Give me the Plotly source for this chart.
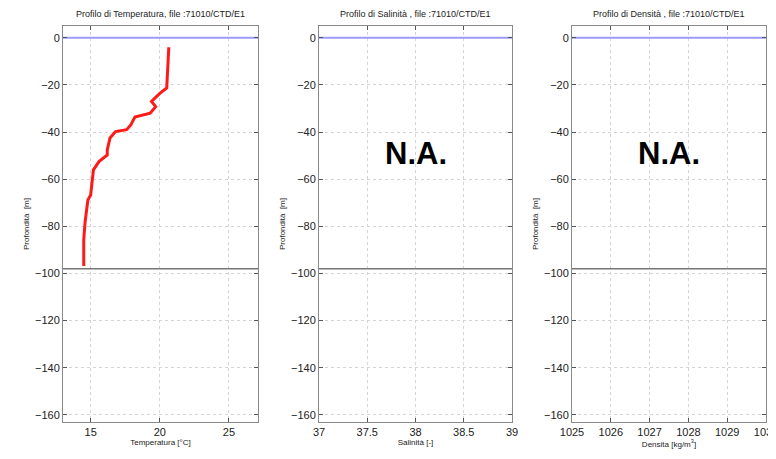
import plotly.graph_objects as go

# ---- data ----
temp_values = [20.65, 20.6, 20.55, 20.5, 20.0, 19.4, 19.7, 19.3, 18.2, 17.9, 17.6, 16.8, 16.4,
               16.2, 16.2, 15.9, 15.6, 15.2, 15.1, 15.0, 14.8, 14.7, 14.6, 14.5, 14.5]
temp_depths = [-4, -10, -16, -21.3, -23.6, -27, -29.2, -32, -33.6, -37, -39, -39.8, -42.5,
               -47.6, -49.7, -51, -52.5, -56, -61.7, -66.7, -68.8, -73.7, -78, -85.7, -96.8]
surface_depth = 0
bottom_depth = -98
depth_ticks = [0, -20, -40, -60, -80, -100, -120, -140, -160]
temp_ticks = [15, 20, 25]
sal_ticks = [37, 37.5, 38, 38.5, 39]
dens_ticks = [1025, 1026, 1027, 1028, 1029, 1030]
titles = ["Profilo di Temperatura, file :71010/CTD/E1",
          "Profilo di Salinità , file :71010/CTD/E1",
          "Profilo di Densità , file :71010/CTD/E1"]
xlabels = ["Temperatura [°C]", "Salinità [-]", "Densita [kg/m<sup>3</sup>]"]
na_text = "N.A."

FONT = "Liberation Sans, Arial, sans-serif"
fig = go.Figure()

# page has an 8px body margin: figure is offset by 8px right and down;
# figure is a bit wider than the window so the last tick label is cut like the original
OFF = 8
W, H = 792, 459 - OFF


def px(xp):
    return (xp - OFF) / W


def py(yp):
    return 1 - (yp - OFF) / H


domains = [[px(63), px(258)], [px(319), px(512)], [px(572), px(766)]]
xranges = [[13, 27.1], [37, 39], [1025, 1030]]
xticks = [temp_ticks, sal_ticks, dens_ticks]
ydom = [py(422), py(26)]
yrange = [-163, 5]

for i in range(3):
    sx = "" if i == 0 else str(i + 1)
    xa = dict(domain=domains[i], range=xranges[i], tickvals=xticks[i],
              ticktext=[str(t) for t in xticks[i]], automargin=False,
              showline=True, linecolor="#8a8a8a", linewidth=1, mirror="ticks",
              ticks="inside", ticklen=4, tickcolor="#555555",
              showgrid=True, gridcolor="#d4d4d4", griddash="dot", gridwidth=1,
              zeroline=False, anchor="y" + sx,
              tickfont=dict(family=FONT, size=11, color="#222222"),
              title=dict(text=xlabels[i], font=dict(family=FONT, size=8, color="#222222"),
                         standoff=2))
    ya = dict(domain=ydom, range=yrange, tickvals=depth_ticks, automargin=False,
              showline=True, linecolor="#8a8a8a", linewidth=1, mirror="ticks",
              ticks="inside", ticklen=4, tickcolor="#555555",
              showgrid=True, gridcolor="#d4d4d4", griddash="dot", gridwidth=1,
              zeroline=False, anchor="x" + sx,
              tickfont=dict(family=FONT, size=11, color="#222222"),
              title=dict(text="Profondità  [m]", font=dict(family=FONT, size=8, color="#222222"),
                         standoff=4))
    fig.update_layout(**{"xaxis" + sx: xa, "yaxis" + sx: ya})

    xr = xranges[i]
    # surface line (blue) and bottom line (grey)
    fig.add_trace(go.Scatter(x=[xr[0], xr[1]], y=[surface_depth, surface_depth], mode="lines",
                             line=dict(color="#9a9aff", width=2), xaxis="x" + sx, yaxis="y" + sx,
                             showlegend=False, hoverinfo="skip"))
    fig.add_trace(go.Scatter(x=[xr[0], xr[1]], y=[bottom_depth, bottom_depth], mode="lines",
                             line=dict(color="#777777", width=1.5), xaxis="x" + sx, yaxis="y" + sx,
                             showlegend=False, hoverinfo="skip"))

    fig.add_annotation(text=titles[i], x=(domains[i][0] + domains[i][1]) / 2, y=py(14),
                       xref="paper", yref="paper", showarrow=False, xanchor="center", yanchor="middle",
                       font=dict(family=FONT, size=9, color="#222222"))

fig.add_trace(go.Scatter(x=temp_values, y=temp_depths, mode="lines",
                         line=dict(color="#ff1a1a", width=3), xaxis="x", yaxis="y",
                         showlegend=False))

fig.add_annotation(text="<b>" + na_text + "</b>", x=38, y=-49, xref="x2", yref="y2", showarrow=False,
                   font=dict(family=FONT, size=31, color="black"))
fig.add_annotation(text="<b>" + na_text + "</b>", x=1027.5, y=-49, xref="x3", yref="y3", showarrow=False,
                   font=dict(family=FONT, size=31, color="black"))

fig.update_layout(width=W, height=H, margin=dict(l=0, r=0, t=0, b=0),
                  paper_bgcolor="white", plot_bgcolor="white", showlegend=False)

fig.write_html("out.html")
